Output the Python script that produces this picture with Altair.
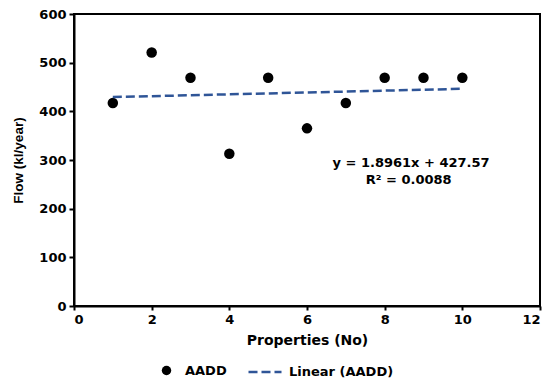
import altair as alt
import pandas as pd

# Data
properties = [1, 2, 3, 4, 5, 6, 7, 8, 9, 10]
flow = [417, 521, 469, 313, 469, 365, 417, 469, 469, 469]
eq_lines = ["y = 1.8961x + 427.57", "R² = 0.0088"]
eq_x = [8.68, 8.62]
eq_y = [294, 259]

FONT = "DejaVu Sans"
VFONT = "Liberation Sans"
BLUE = "#2f5597"

df = pd.DataFrame({"x": properties, "y": flow, "series": "AADD"})
ann = pd.DataFrame({"x": eq_x, "y": eq_y, "t": eq_lines})

xscale = alt.Scale(domain=[0, 12], nice=False)
yscale = alt.Scale(domain=[0, 600], nice=False)

xax = alt.Axis(values=[0, 2, 4, 6, 8, 10, 12], title="Properties (No)", grid=False,
               tickSize=4, labelPadding=3, titlePadding=7)
yax = alt.Axis(values=[0, 100, 200, 300, 400, 500, 600], title="Flow (kl/year)", grid=False,
               tickSize=5, labelPadding=3, titlePadding=13)

points = alt.Chart(df).mark_point(filled=True, size=110, opacity=1).encode(
    x=alt.X("x:Q", scale=xscale, axis=xax),
    y=alt.Y("y:Q", scale=yscale, axis=yax),
    color=alt.Color("series:N", scale=alt.Scale(domain=["AADD"], range=["black"]),
                    legend=alt.Legend(title=None, orient="none", legendX=86, legendY=350,
                                      symbolType="circle", symbolSize=90,
                                      labelFont=FONT, labelFontWeight="bold", labelFontSize=13,
                                      labelColor="black", labelOffset=12)),
)

trend = alt.Chart(df).transform_regression("x", "y").transform_calculate(
    s="'Linear (AADD)'"
).mark_line(color=BLUE, strokeWidth=2.5).encode(
    x=alt.X("x:Q", scale=xscale),
    y=alt.Y("y:Q", scale=yscale),
    strokeDash=alt.StrokeDash("s:N", scale=alt.Scale(domain=["Linear (AADD)"], range=[[9, 4]]),
                              legend=alt.Legend(title=None, orient="none", legendX=173, legendY=340,
                                                symbolType="stroke", symbolSize=1089,
                                                symbolStrokeColor=BLUE, symbolStrokeWidth=2.5,
                                                labelFont=FONT, labelFontWeight="bold", labelFontSize=13,
                                                labelColor="black", labelOffset=6)),
)

text = alt.Chart(ann).mark_text(font=FONT, fontWeight="bold", fontSize=13, color="black",
                                align="center", baseline="middle").encode(
    x=alt.X("x:Q", scale=xscale),
    y=alt.Y("y:Q", scale=yscale),
    text="t:N",
)

chart = alt.layer(points, trend, text).resolve_legend(color="independent", strokeDash="independent").properties(
    width=466, height=292,
    autosize=alt.AutoSizeParams(type="none"),
    padding={"left": 66, "top": 6, "right": 6, "bottom": 72},
).configure_view(stroke="black", strokeWidth=2).configure_axis(
    domainColor="black", domainWidth=2, tickColor="black", tickWidth=2,
    labelFont=FONT, labelFontWeight="bold", labelFontSize=13, labelColor="black",
    titleFontWeight="bold", titleColor="black",
).configure_axisX(titleFont=FONT, titleFontSize=14).configure_axisY(titleFont=VFONT, titleFontSize=13.5)

chart.save("out.html", embed_options={"renderer": "svg", "actions": False})
